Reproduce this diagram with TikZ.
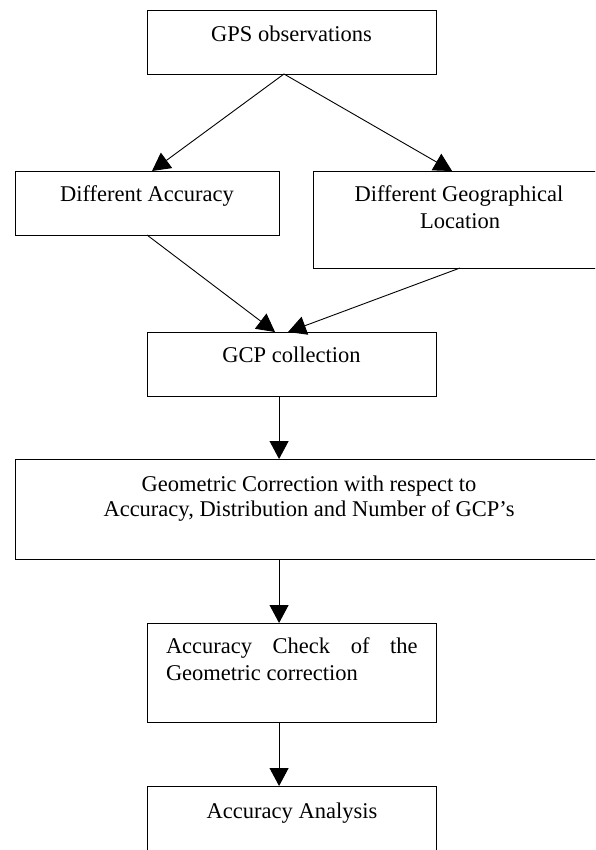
\documentclass[tikz,border=0pt]{standalone}
\usepackage{fontspec}
\setmainfont{Liberation Serif}
\usetikzlibrary{arrows.meta,calc}
\begin{document}
\begin{tikzpicture}[x=1pt,y=-1pt,
  box/.style={draw,line width=0.9pt,rectangle,inner sep=0pt,outer sep=0pt},
  txt/.style={inner sep=0pt,outer sep=0pt,anchor=base,font=\fontsize{22.5}{26}\selectfont},
  txtl/.style={txt,anchor=base west},
  arr/.style={line width=0.9pt,-{Triangle[width=19pt,length=18pt]}}]
\path[use as bounding box] (0,0) rectangle (595,850);
\clip (0,0) rectangle (595,850);
\fill[white] (0,0) rectangle (595,850);
% boxes
\node[box,minimum width=289pt,minimum height=64pt] (gps) at (291.5,42) {};
\node[box,minimum width=264pt,minimum height=64pt] (acc) at (147,203) {};
\node[box,minimum width=294pt,minimum height=97pt] (geo) at (460,219.5) {};
\node[box,minimum width=289pt,minimum height=64pt] (gcp) at (291.5,364) {};
\node[box,minimum width=588pt,minimum height=100pt] (geom) at (309,509) {};
\node[box,minimum width=289pt,minimum height=99pt] (chk) at (291.5,672.5) {};
\node[box,minimum width=289pt,minimum height=96pt] (ana) at (291.5,834) {};
% texts
\node[txt] (gpsT) at (291.5,41.7) {GPS observations};
\node[txt] (accT) at (147,201.7) {Different Accuracy};
\node[txt] (geoT1) at (459,201.7) {Different Geographical};
\node[txt] (geoT2) at (460,228.3) {Location};
\node[txt] (gcpT) at (291.5,362.7) {GCP collection};
\node[txt] (geomT1) at (309,491.7) {Geometric Correction with respect to};
\node[txt] (geomT2) at (309,516.7) {Accuracy, Distribution and Number of GCP’s};
\node[txtl] (chkT1) at (166,653.3) {\makebox[251.5pt][s]{Accuracy Check of the}};
\node[txtl] (chkT2) at (166,680) {Geometric correction};
\node[txt] (anaT) at (292,818.3) {Accuracy Analysis};
% connectors
\draw[arr] ($(gps.south west)!0.474!(gps.south east)$) -- ($(acc.north west)!0.519!(acc.north east)$);
\draw[arr] ($(gps.south west)!0.474!(gps.south east)$) -- ($(geo.north west)!0.473!(geo.north east)$);
\draw[arr] (acc.south) -- ($(gcp.north west)!0.443!(gcp.north east)$);
\draw[arr] (geo.south) -- ($(gcp.north west)!0.488!(gcp.north east)$);
\draw[arr] ($(gcp.south west)!0.457!(gcp.south east)$) -- ($(gcp.south west)!0.457!(gcp.south east)+(0,63)$);
\draw[arr] ($(chk.north west)!0.457!(chk.north east)+(0,-64)$) -- ($(chk.north west)!0.457!(chk.north east)$);
\draw[arr] ($(chk.south west)!0.457!(chk.south east)$) -- ($(ana.north west)!0.457!(ana.north east)$);
\end{tikzpicture}
\end{document}
